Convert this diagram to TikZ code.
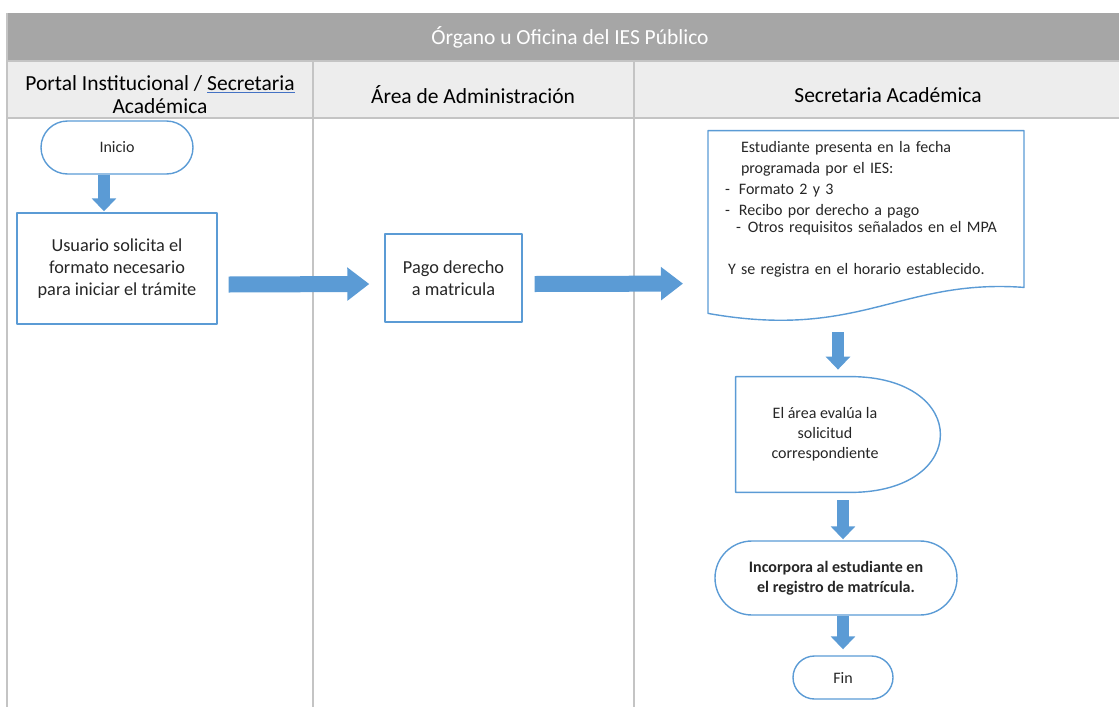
\documentclass[tikz,border=0pt]{standalone}
\usepackage{fontspec}
\setmainfont{Carlito}
\usetikzlibrary{arrows.meta,shapes.misc}

\definecolor{headgray}{HTML}{A6A6A6}
\definecolor{lanegray}{HTML}{EDEDED}
\definecolor{laneline}{HTML}{C4C4C4}
\definecolor{boxblue}{HTML}{5B9BD5}
\definecolor{arrowblue}{HTML}{5B9BD5}
\definecolor{spellblue}{HTML}{4472C4}
\definecolor{inktext}{HTML}{262626}

\newcommand{\titlefont}{\fontsize{21.5}{24}\selectfont}
\newcommand{\lanefont}{\fontsize{21.5}{23}\selectfont}
\newcommand{\boxfont}{\fontsize{18.3}{22}\selectfont}
\newcommand{\docfont}{\fontsize{16}{21}\selectfont}
\newcommand{\termfont}{\fontsize{16}{20}\selectfont}

\tikzset{
  box/.style={draw=boxblue,line width=1.4pt,align=center,inner sep=0pt,text=inktext},
  terminal/.style={box,rounded rectangle},
  flowdown/.style={line width=12pt,draw=arrowblue,line join=miter,-{Triangle[width=24pt,length=13pt]}},
  flowright/.style={line width=16pt,draw=arrowblue,line join=miter,-{Triangle[width=32pt,length=22pt]}},
}

\begin{document}
\begin{tikzpicture}[thick,x=1pt,y=1pt,line join=round,>=latex]
      \useasboundingbox (0,0) rectangle (1119,-707);
      % pool and lanes
      \fill[headgray] (7,-13) rectangle (1119,-61);
      \fill[lanegray] (7,-61) rectangle (1119,-118);
      \draw[laneline,line width=1.2pt] (7,-61)--(1119,-61);
      \draw[laneline,line width=1.2pt] (7,-118)--(1119,-118);
      \draw[laneline,line width=1.2pt] (7,-13)--(7,-707);
      \draw[laneline,line width=1.2pt] (313,-61)--(313,-707);
      \draw[laneline,line width=1.2pt] (634,-61)--(634,-707);
      \node[text=white,font=\titlefont] (pool) at (570,-37) {Órgano u Oficina del IES Público};
      \node[align=center,font=\lanefont] (laneportal) at (160,-95)
        {Portal Institucional / \textcolor{spellblue}{\underline{\textcolor{black}{Secretaria}}}\\Académica};
      \node[font=\lanefont] (laneadmin) at (473,-95) {Área de Administración};
      \node[font=\lanefont] (lanesecre) at (888,-95) {Secretaria Académica};
      % steps
      \node[terminal,minimum width=152pt,minimum height=53pt,font=\termfont] (inicio) at (117,-147.5) {Inicio};
      \node[box,minimum width=200pt,minimum height=111pt,font=\boxfont] (usuario) at (117,-268.5)
        {Usuario solicita el\\formato necesario\\para iniciar el trámite};
      \node[box,minimum width=137pt,minimum height=88pt,font=\boxfont] (pago) at (453.5,-278)
        {Pago derecho\\a matricula};
      \node[align=left,text width=282pt,inner sep=0pt,minimum height=156pt,font=\docfont,text=inktext] (doc) at (866,-209)
        {\hspace*{16pt}Estudiante presenta en la fecha\\
         \hspace*{16pt}programada por el IES:\\
         -\hspace{9pt}Formato 2 y 3\\
         -\hspace{9pt}Recibo por derecho a pago\\[-4pt]
         \hspace*{11pt}-\hspace{7pt}Otros requisitos señalados en el MPA\\[21pt]
         \hspace*{3pt}Y se registra en el horario establecido.};
      \draw[boxblue,line width=1.4pt] ([xshift=-158pt]doc.north) -- ([xshift=158pt]doc.north)
        -- ([xshift=158pt]doc.south) .. controls ([xshift=34pt,yshift=9pt]doc.south) and ([xshift=-6pt,yshift=-53pt]doc.south)
        .. ([xshift=-158pt,yshift=-26pt]doc.south) -- cycle;
      \node[align=center,inner sep=0pt,minimum width=178pt,minimum height=115pt,font=\termfont,text=inktext] (eval) at (825,-434.5)
        {El área evalúa la\\solicitud\\correspondiente};
      \draw[boxblue,line width=1.4pt] (eval.north west) -- ([xshift=-64pt]eval.north east)
        .. controls ([xshift=56pt]eval.north east) and ([xshift=56pt]eval.south east) .. ([xshift=-64pt]eval.south east)
        -- (eval.south west) -- cycle;
      \node[terminal,minimum width=242pt,minimum height=74pt,font=\termfont\bfseries] (incorpora) at (836,-578)
        {Incorpora al estudiante en\\el registro de matrícula.};
      \node[terminal,minimum width=100pt,minimum height=43pt,font=\termfont] (fin) at (843,-677.5) {Fin};
      % arrows
      \draw[flowdown] ([xshift=-13pt]inicio.south) -- ([xshift=-13pt,yshift=1pt]usuario.north);
      \draw[flowright] ([xshift=11pt,yshift=-16pt]usuario.east) -- ([xshift=-15pt,yshift=-6pt]pago.west);
      \draw[flowright] ([xshift=12pt,yshift=-6pt]pago.east) -- ([xshift=-183pt,yshift=-153pt]doc.north);
      \draw[flowdown] ([xshift=-28pt,yshift=-45pt]doc.south) -- ([xshift=13pt,yshift=7pt]eval.north);
      \draw[flowdown] ([xshift=18pt,yshift=-8pt]eval.south) -- ([xshift=7pt,yshift=1pt]incorpora.north);
      \draw[flowdown] ([xshift=7pt]incorpora.south) -- ([yshift=6pt]fin.north);
\end{tikzpicture}
\end{document}
